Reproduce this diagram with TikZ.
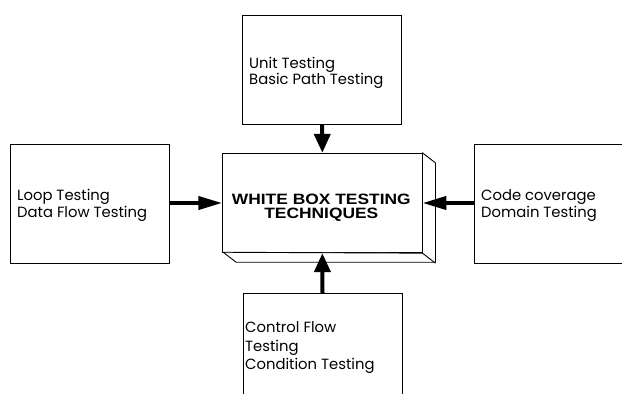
\documentclass[tikz,border=0pt]{standalone}
\usepackage{fontspec}
\usetikzlibrary{arrows.meta}
\newfontfamily\bodyfont{Poppins}
\newfontfamily\headfont[FakeStretch=1.16]{Liberation Sans}
\tikzset{
  box/.style={draw=black, line width=0.9pt, fill=white, inner sep=0pt},
  txt/.style={inner sep=0pt, anchor=base west, font=\bodyfont\fontsize{14.8}{16}\selectfont},
  head/.style={inner sep=0pt, anchor=base, font=\headfont\bfseries\fontsize{15}{15}\selectfont},
  harrow/.style={line width=4pt, -{Triangle[length=24pt,width=13pt]}},
  varrow/.style={line width=4pt, -{Triangle[length=19pt,width=16pt]}},
}
\begin{document}
\begin{tikzpicture}[x=1pt,y=-1pt]
\useasboundingbox (0,0) rectangle (622,394);
\clip (0,0) rectangle (622,394);
\fill[white] (0,0) rectangle (622,394);
% outer boxes
\node[box, minimum width=159pt, minimum height=109.3pt] (top) at (322.2,69.65) {};
\node[box, minimum width=158.6pt, minimum height=119pt] (left) at (90,203.8) {};
\node[box, minimum width=170pt, minimum height=119pt] (right) at (559.3,203.8) {};
\node[box, minimum width=159pt, minimum height=130pt] (bottom) at (322.5,358.3) {};
% centre box with depth
\node[box, minimum width=199.3pt, minimum height=99.4pt] (core) at (322.35,203) {};
\draw[line width=0.9pt, fill=white, line join=miter]
  (core.north east) -- ++(13,10) -- ++(0,99.4) -- ++(-199.3,0) -- ++(-13,-10) -- (core.south east) -- cycle;
\draw[line width=0.9pt] (core.south east) -- ++(13,10);
% texts
\node[txt] (t1) at (249,68.3) {Unit Testing};
\node[txt] (t2) at (249,84.5) {Basic Path Testing};
\node[txt] (l1) at (17,200) {Loop Testing};
\node[txt] (l2) at (17,217) {Data Flow Testing};
\node[txt] (r1) at (481,200) {Code coverage};
\node[txt] (r2) at (481,217) {Domain Testing};
\node[txt] (b1) at (245,332.7) {Control Flow};
\node[txt] (b2) at (245,351.2) {Testing};
\node[txt] (b3) at (245,369) {Condition Testing};
\node[head] (h1) at (321.3,204) {WHITE BOX TESTING};
\node[head] (h2) at (321.3,218.3) {TECHNIQUES};
% arrows
\draw[varrow] (top.south) -- (core.north);
\draw[varrow] (bottom.north) -- (core.south);
\draw[harrow] (left.east |- core.center) -- (core.west);
\draw[harrow] (right.west |- core.center) -- (core.east);
\end{tikzpicture}
\end{document}
